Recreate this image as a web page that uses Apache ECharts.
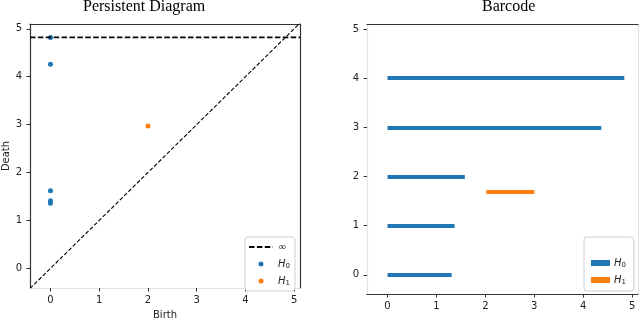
<!DOCTYPE html>
<html><head><meta charset="utf-8">
<script src="https://cdn.jsdelivr.net/npm/echarts@6/dist/echarts.min.js"></script>
<style>html,body{margin:0;padding:0;background:#fff}#c{width:640px;height:325px}</style>
</head><body><div id="c"></div>
<script>
// axis limits and ticks
const xLimits = [-0.42, 5.12];
const pdYLimits = [-0.41, 5.1];
const bcYLimits = [-0.39, 5.1];
const tickValues = [0, 1, 2, 3, 4, 5];
const infinityLevel = 4.82;
// persistence diagram points
const pdH0Birth = [0, 0, 0, 0, 0];
const pdH0Death = [1.36, 1.41, 1.62, 4.26, 4.82];
const pdH1Birth = [2.0];
const pdH1Death = [2.97];
// barcode intervals
const bcH0Birth = [0, 0, 0, 0, 0];
const bcH0Death = [1.31, 1.37, 1.58, 4.37, 4.84];
const bcH0Row = [0, 1, 2, 3, 4];
const bcH1Birth = [2.02];
const bcH1Death = [3.0];
const bcH1Row = [1.68];

const C0 = '#1f77b4', C1 = '#ff7f0e';
const dark = '#333', light = '#e4e4e4';
const labelStyle = {color: '#222', fontSize: 10, fontFamily: 'DejaVu Sans'};

function mainX(grid, lineColor, name) {
  return {
    type: 'value', gridIndex: grid, position: 'bottom', min: xLimits[0], max: xLimits[1],
    axisLine: {show: true, onZero: false, lineStyle: {color: lineColor, width: 1}},
    axisTick: {show: true, length: 3.5, customValues: tickValues, lineStyle: {color: dark}},
    axisLabel: Object.assign({show: true, margin: 7, customValues: tickValues}, labelStyle),
    splitLine: {show: false},
    name: name, nameLocation: 'middle', nameGap: 22,
    nameTextStyle: {color: '#222', fontSize: 10, fontFamily: 'DejaVu Sans'}
  };
}
function sideAxis(grid, pos, lim, lineColor) {
  return {
    type: 'value', gridIndex: grid, position: pos, min: lim[0], max: lim[1],
    axisLine: {show: true, onZero: false, lineStyle: {color: lineColor, width: 1.2}},
    axisTick: {show: false}, axisLabel: {show: false}, splitLine: {show: false}
  };
}
function mainY(grid, lim, lineColor, name) {
  return {
    type: 'value', gridIndex: grid, position: 'left', min: lim[0], max: lim[1],
    axisLine: {show: true, onZero: false, lineStyle: {color: lineColor, width: 1.2}},
    axisTick: {show: true, length: 3.5, customValues: tickValues, lineStyle: {color: dark}},
    axisLabel: Object.assign({show: true, margin: 8, customValues: tickValues}, labelStyle),
    splitLine: {show: false},
    name: name, nameLocation: 'middle', nameGap: 19, nameRotate: 90,
    nameTextStyle: {color: '#222', fontSize: 10, fontFamily: 'DejaVu Sans'}
  };
}

const bottomX0 = mainX(0, light, 'Birth');
const bottomX2 = mainX(1, dark, '');
bottomX2.axisLine.lineStyle.width = 1.2;

const rich = {
  i: {fontStyle: 'italic', fontSize: 10, fontFamily: 'DejaVu Sans', color: '#222', lineHeight: 12},
  s: {fontSize: 7, fontFamily: 'DejaVu Sans', color: '#222', lineHeight: 12, padding: [5, 0, 0, 0]},
  n: {fontSize: 10, fontFamily: 'DejaVu Sans', color: '#222', lineHeight: 12}
};
function legendFmt(name) {
  if (name === 'inf') return '{n|∞}';
  const d = name.slice(-1);
  return '{i|H}{s|' + d + '}';
}

const option = {
  animation: false,
  title: [
    {text: 'Persistent Diagram', left: 83, top: -1, padding: 0,
     textStyle: {fontFamily: 'Liberation Serif', fontSize: 16, fontWeight: 'normal', color: '#000'}},
    {text: 'Barcode', left: 482, top: -1, padding: 0,
     textStyle: {fontFamily: 'Liberation Serif', fontSize: 16, fontWeight: 'normal', color: '#000'}}
  ],
  grid: [
    {left: 29, top: 24, width: 271, height: 270},
    {left: 367, top: 24, width: 271, height: 270}
  ],
  xAxis: [
    bottomX0,
    sideAxis(0, 'top', xLimits, dark),
    bottomX2,
    sideAxis(1, 'top', xLimits, dark)
  ],
  yAxis: [
    mainY(0, pdYLimits, dark, 'Death'),
    sideAxis(0, 'right', pdYLimits, dark),
    mainY(1, bcYLimits, light, ''),
    sideAxis(1, 'right', bcYLimits, light)
  ],
  legend: [
    {orient: 'vertical', left: 245, top: 237, padding: [4, 5, 4, 3], itemGap: 5,
     itemWidth: 24, itemHeight: 5, borderColor: '#d0d0d0', borderWidth: 1, borderRadius: 3,
     backgroundColor: 'rgba(255,255,255,0.85)', selectedMode: false,
     data: [{name: 'inf', itemStyle: {opacity: 0}},
            {name: 'pdH0', icon: 'circle'}, {name: 'pdH1', icon: 'circle'}],
     formatter: legendFmt, textStyle: {rich: rich, lineHeight: 12}},
    {orient: 'vertical', left: 584, top: 237, padding: [20, 8, 5, 7], itemGap: 5,
     itemWidth: 17, itemHeight: 4, borderColor: '#d0d0d0', borderWidth: 1, borderRadius: 3,
     backgroundColor: 'rgba(255,255,255,0.85)', selectedMode: false,
     data: [{name: 'bcH0', icon: 'rect'}, {name: 'bcH1', icon: 'rect'}],
     formatter: legendFmt, textStyle: {rich: rich, lineHeight: 12}}
  ],
  series: [
    {name: 'diag', type: 'line', xAxisIndex: 0, yAxisIndex: 0, symbol: 'none', silent: true,
     data: [[xLimits[0], xLimits[0]], [xLimits[1], xLimits[1]]],
     lineStyle: {color: '#000', width: 1.1, type: [4, 2]}},
    {name: 'inf', type: 'line', xAxisIndex: 0, yAxisIndex: 0, symbol: 'none', silent: true,
     data: [[xLimits[0], infinityLevel], [xLimits[1], infinityLevel]],
     itemStyle: {color: '#000'},
     lineStyle: {color: '#000', width: 1.9, type: [5.5, 2.4]}},
    {name: 'pdH0', type: 'scatter', xAxisIndex: 0, yAxisIndex: 0, symbolSize: 5,
     itemStyle: {color: C0, opacity: 1},
     data: pdH0Birth.map((b, i) => [b, pdH0Death[i]])},
    {name: 'pdH1', type: 'scatter', xAxisIndex: 0, yAxisIndex: 0, symbolSize: 5,
     itemStyle: {color: C1, opacity: 1},
     data: pdH1Birth.map((b, i) => [b, pdH1Death[i]])},
    {name: 'bcH0', type: 'lines', coordinateSystem: 'cartesian2d', xAxisIndex: 2, yAxisIndex: 2,
     itemStyle: {color: C0},
     lineStyle: {color: C0, width: 4, opacity: 1, cap: 'butt'},
     data: bcH0Birth.map((b, i) => ({coords: [[b, bcH0Row[i]], [bcH0Death[i], bcH0Row[i]]]}))},
    {name: 'bcH1', type: 'lines', coordinateSystem: 'cartesian2d', xAxisIndex: 2, yAxisIndex: 2,
     itemStyle: {color: C1},
     lineStyle: {color: C1, width: 4, opacity: 1, cap: 'butt'},
     data: bcH1Birth.map((b, i) => ({coords: [[b, bcH1Row[i]], [bcH1Death[i], bcH1Row[i]]]}))}
  ]
};
const chart = echarts.init(document.getElementById('c'), null, {renderer: 'canvas'});
chart.setOption(option);
</script></body></html>
